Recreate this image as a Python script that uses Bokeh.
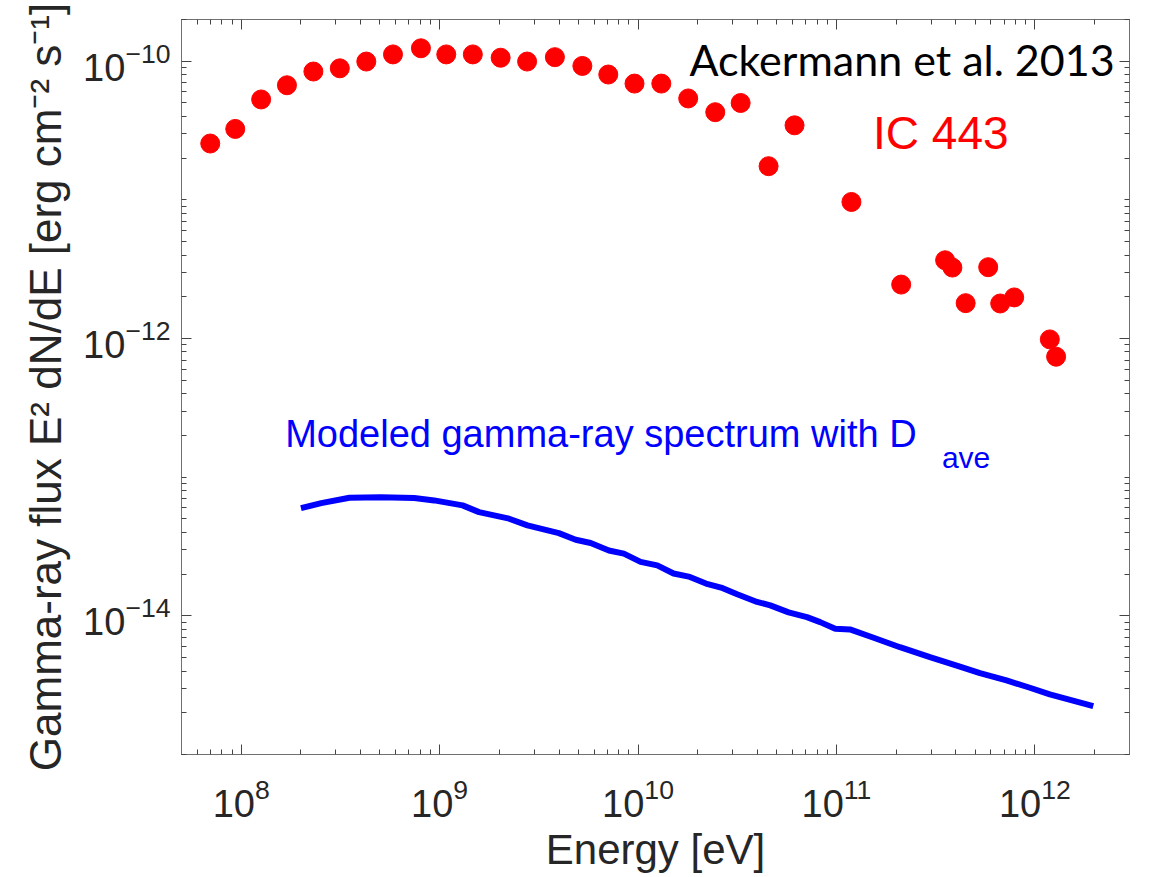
from bokeh.plotting import figure
from bokeh.models import LogAxis, FixedTicker, Range1d, CustomJSTickFormatter
from bokeh.embed import file_html
from bokeh.resources import INLINE
from bokeh.core.properties import value

# IC 443 measured spectral energy distribution (Ackermann et al. 2013)
obs_energy = [6.98e7, 9.33e7, 1.26e8, 1.70e8, 2.31e8, 3.14e8, 4.27e8, 5.82e8, 8.05e8,
              1.08e9, 1.47e9, 2.03e9, 2.76e9, 3.81e9, 5.24e9, 7.08e9, 9.60e9,
              1.31e10, 1.79e10, 2.45e10, 3.29e10, 4.55e10, 6.15e10,
              1.19e11, 2.12e11, 3.53e11, 3.84e11, 4.48e11, 5.82e11, 6.69e11, 7.87e11,
              1.19e12, 1.28e12]
obs_flux = [2.55e-11, 3.25e-11, 5.30e-11, 6.71e-11, 8.43e-11, 8.89e-11, 9.95e-11, 1.12e-10, 1.24e-10,
            1.12e-10, 1.12e-10, 1.06e-10, 9.95e-11, 1.07e-10, 9.25e-11, 8.02e-11, 6.90e-11,
            6.90e-11, 5.39e-11, 4.29e-11, 5.00e-11, 1.75e-11, 3.45e-11,
            9.66e-12, 2.45e-12, 3.67e-12, 3.25e-12, 1.80e-12, 3.27e-12, 1.79e-12, 1.98e-12,
            9.86e-13, 7.40e-13]

# Modeled gamma-ray spectrum with the averaged diffusion coefficient
model_energy = [2.00e8, 2.53e8, 3.51e8, 5.06e8, 7.45e8, 9.39e8, 1.305e9, 1.58e9, 2.24e9, 2.77e9,
                3.99e9, 4.85e9, 5.77e9, 7.13e9, 8.48e9, 1.03e10, 1.25e10, 1.51e10, 1.80e10,
                2.20e10, 2.62e10, 3.16e10, 3.98e10, 4.64e10, 5.74e10, 7.10e10, 8.28e10,
                9.86e10, 1.17e11, 1.54e11, 2.09e11, 2.96e11, 4.19e11, 5.29e11, 7.20e11,
                9.44e11, 1.19e12, 1.97e12]
model_flux = [5.98e-14, 6.50e-14, 7.11e-14, 7.18e-14, 7.07e-14, 6.80e-14, 6.26e-14, 5.60e-14,
              5.02e-14, 4.49e-14, 3.95e-14, 3.54e-14, 3.35e-14, 2.96e-14, 2.81e-14, 2.45e-14,
              2.31e-14, 2.02e-14, 1.92e-14, 1.71e-14, 1.60e-14, 1.43e-14, 1.26e-14, 1.19e-14,
              1.06e-14, 9.79e-15, 9.01e-15, 8.07e-15, 7.98e-15, 6.95e-15, 5.94e-15, 5.04e-15,
              4.31e-15, 3.86e-15, 3.42e-15, 3.03e-15, 2.71e-15, 2.23e-15]

x_major = [1e8, 1e9, 1e10, 1e11, 1e12]
y_major = [1e-14, 1e-12, 1e-10]
x_minor = [m * 10.0 ** e for e in range(7, 13) for m in range(2, 10)
           if 5e7 <= m * 10.0 ** e <= 3e12]
y_minor = [m * 10.0 ** e for e in range(-15, -9) for m in range(1, 10)
           if 1e-15 <= m * 10.0 ** e <= 2e-10 and m * 10.0 ** e not in y_major]

FONT = "Liberation Sans"
AXIS_GRAY = "#707070"
TEXT_DARK = "#262626"

p = figure(width=1154, height=877, x_axis_type="log", y_axis_type="log",
           x_range=Range1d(5e7, 3e12), y_range=Range1d(1e-15, 2e-10),
           output_backend="svg", toolbar_location=None,
           min_border_left=181, min_border_right=25,
           min_border_top=19, min_border_bottom=123)
p.xgrid.visible = False
p.ygrid.visible = False
p.outline_line_color = AXIS_GRAY
p.background_fill_color = "white"
p.border_fill_color = "white"

xt = FixedTicker(ticks=x_major, minor_ticks=x_minor)
yt = FixedTicker(ticks=y_major, minor_ticks=y_minor)

bottom_axis = p.below[0]
left_axis = p.left[0]
bottom_axis.ticker = xt
left_axis.ticker = yt

# tick-only box sides (top and right carry no labels)
blank = CustomJSTickFormatter(code="return '';")
top_axis = LogAxis(ticker=xt, formatter=blank)
right_axis = LogAxis(ticker=yt, formatter=blank)
p.add_layout(top_axis, "above")
p.add_layout(right_axis, "right")

for ax in [bottom_axis, left_axis, top_axis, right_axis]:
    ax.axis_line_color = AXIS_GRAY
    ax.major_tick_line_color = "#444444"
    ax.minor_tick_line_color = "#444444"
    ax.major_tick_in = 10
    ax.major_tick_out = 0
    ax.minor_tick_in = 5
    ax.minor_tick_out = 0
    ax.major_label_text_font = FONT
    ax.major_label_text_color = TEXT_DARK
    ax.major_label_text_font_size = "38px"
    ax.axis_label_text_font = FONT
    ax.axis_label_text_color = TEXT_DARK
    ax.axis_label_text_font_style = "normal"
    ax.axis_label_text_font_size = "42px"

for ax in [top_axis, right_axis]:
    ax.major_label_text_font_size = "1px"
    ax.major_label_standoff = 0

bottom_axis.axis_label = "Energy [eV]"
bottom_axis.major_label_standoff = 23
bottom_axis.axis_label_standoff = 6
left_axis.axis_label = "Gamma-ray flux E\u00b2 dN/dE [erg cm\u207b\u00b2 s\u207b\u00b9]"
left_axis.axis_label_text_font_size = "44px"
left_axis.major_label_standoff = 11
left_axis.axis_label_standoff = 10

# model curve
p.line(model_energy, model_flux, line_color="#0000ff", line_width=6)

# measured points
p.scatter(obs_energy, obs_flux, size=19, fill_color="#ff0000", line_color="#ff0000")

# annotations
p.text(x=[1.815e10], y=[7.83e-11], text=["Ackermann et al. 2013"], y_offset=-16,
       text_font=value("Lato"), text_font_size="43px", text_color="black",
       text_baseline="alphabetic", text_align="left")
p.text(x=[1.53e11], y=[2.28e-11], text=["IC 443"], y_offset=-17,
       text_font=value(FONT), text_font_size="46px", text_color="#ff0000",
       text_baseline="alphabetic", text_align="left")
p.text(x=[1.665e8], y=[1.648e-13], text=["Modeled gamma-ray spectrum with D"], y_offset=-13,
       text_font=value(FONT), text_font_size="38px", text_color="#0000ff",
       text_baseline="alphabetic", text_align="left")
p.text(x=[3.40e11], y=[1.15e-13], text=["ave"], y_offset=-11,
       text_font=value(FONT), text_font_size="30px", text_color="#0000ff",
       text_baseline="alphabetic", text_align="left")

open("out.html", "w").write(file_html(p, INLINE))
